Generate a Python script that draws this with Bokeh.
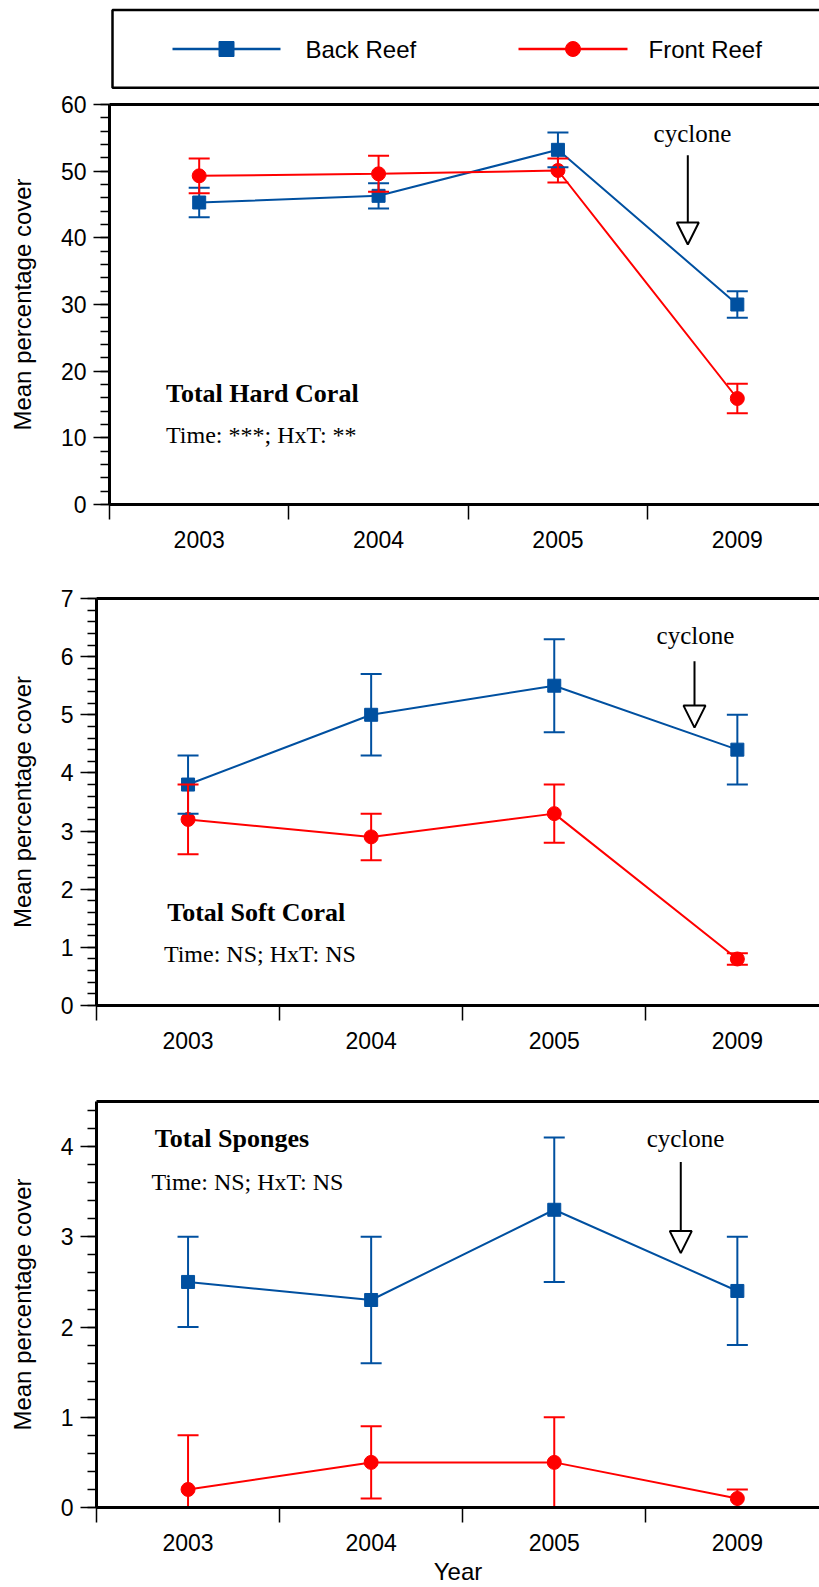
from bokeh.plotting import figure
from bokeh.models import (Range1d, LinearAxis, FixedTicker, ColumnDataSource, Whisker,
                          TeeHead, Arrow, NormalHead, Label, BoxAnnotation)
from bokeh.layouts import column
from bokeh.embed import file_html
from bokeh.resources import INLINE

# ---------------- data ----------------
years = ["2003", "2004", "2005", "2009"]
xpos = [0.5, 1.5, 2.5, 3.5]
series_names = ["Back Reef", "Front Reef"]

hard_back = [45.3, 46.3, 53.2, 30.0]
hard_back_se = [2.2, 1.9, 2.6, 2.0]
hard_front = [49.3, 49.6, 50.1, 15.9]
hard_front_se = [2.6, 2.7, 1.8, 2.2]

soft_back = [3.8, 5.0, 5.5, 4.4]
soft_back_se = [0.5, 0.7, 0.8, 0.6]
soft_front = [3.2, 2.9, 3.3, 0.8]
soft_front_se = [0.6, 0.4, 0.5, 0.1]

sponge_back = [2.5, 2.3, 3.3, 2.4]
sponge_back_se = [0.5, 0.7, 0.8, 0.6]
sponge_front = [0.2, 0.5, 0.5, 0.1]
sponge_front_se = [0.6, 0.4, 0.5, 0.1]

panel_titles = ["Total Hard Coral", "Total Soft Coral", "Total Sponges"]
panel_stats = ["Time: ***; HxT: **", "Time: NS; HxT: NS", "Time: NS; HxT: NS"]
y_label = "Mean percentage cover"
x_label = "Year"
note = "cyclone"

BLUE = "#0050a0"
RED = "#ff0000"
SANS = "Liberation Sans"
SERIF = "Liberation Serif"
W = 819


def frange(a, b, step):
    out = []
    v = a
    while v <= b + 1e-9:
        out.append(round(v, 6))
        v += step
    return out


def make_panel(back, back_se, front, front_se, *, height, top, bottom, left, xend,
               yend, ymajor, yminor_step, title, stats, title_xy, stats_xy,
               cyc_xy, arrow, show_xlabel=False):
    p = figure(width=W, height=height, x_range=Range1d(0, xend), y_range=Range1d(0, yend),
               output_backend="svg", toolbar_location=None,
               x_axis_type=None, y_axis_type=None,
               min_border_left=left, min_border_right=0,
               min_border_top=top, min_border_bottom=bottom)
    p.frame_align = False
    p.outline_line_color = None
    p.background_fill_color = "white"

    majors = frange(0, yend, ymajor)
    minors = frange(0, yend, yminor_step)
    yax = LinearAxis(ticker=FixedTicker(ticks=majors, minor_ticks=minors),
                     axis_line_width=3, axis_line_color="black",
                     major_tick_out=16, major_tick_in=0, minor_tick_out=9, minor_tick_in=0,
                     major_tick_line_width=1.5, minor_tick_line_width=1.5,
                     major_label_text_font=SANS, major_label_text_font_size="23px",
                     major_label_text_color="black", major_label_standoff=7,
                     axis_label=y_label, axis_label_text_font=SANS,
                     axis_label_text_font_size="24px", axis_label_text_font_style="normal",
                     axis_label_text_color="black", axis_label_standoff=22)
    p.add_layout(yax, "left")

    xax = LinearAxis(ticker=FixedTicker(ticks=xpos, minor_ticks=[0, 1, 2, 3, 4]),
                     major_label_overrides={xv: yr for xv, yr in zip(xpos, years)},
                     axis_line_width=3, axis_line_color="black",
                     major_tick_out=0, major_tick_in=0, minor_tick_out=15, minor_tick_in=0,
                     minor_tick_line_width=1.5,
                     major_label_text_font=SANS, major_label_text_font_size="23px",
                     major_label_text_color="black", major_label_standoff=11)
    if show_xlabel:
        xax.axis_label = x_label
        xax.axis_label_text_font = SANS
        xax.axis_label_text_font_size = "24px"
        xax.axis_label_text_font_style = "normal"
        xax.axis_label_text_color = "black"
        xax.axis_label_standoff = 4
    p.add_layout(xax, "below")

    top_ax = LinearAxis(ticker=FixedTicker(ticks=[]), axis_line_width=3,
                        axis_line_color="black", major_tick_out=0, minor_tick_out=0,
                        major_tick_in=0, minor_tick_in=0, major_label_text_font_size="0px")
    p.add_layout(top_ax, "above")

    for vals, se, color, marker, msize in [(back, back_se, BLUE, "square", 13),
                                           (front, front_se, RED, "circle", 14)]:
        src = ColumnDataSource(dict(x=xpos, y=vals,
                                    upper=[v + e for v, e in zip(vals, se)],
                                    lower=[v - e for v, e in zip(vals, se)]))
        p.add_layout(Whisker(source=src, base="x", upper="upper", lower="lower",
                             line_color=color, line_width=2, level="glyph",
                             upper_head=TeeHead(size=21, line_color=color, line_width=2),
                             lower_head=TeeHead(size=21, line_color=color, line_width=2)))
        p.line("x", "y", source=src, line_color=color, line_width=2)
        p.scatter("x", "y", source=src, marker=marker, size=msize,
                  fill_color=color, line_color=color)

    p.add_layout(Label(x=title_xy[0], y=title_xy[1], text=title, text_font=SERIF,
                       text_font_size="26px", text_font_style="bold",
                       text_baseline="middle", text_align="left", text_color="black"))
    p.add_layout(Label(x=stats_xy[0], y=stats_xy[1], text=stats, text_font=SERIF,
                       text_font_size="24px", text_baseline="middle",
                       text_align="left", text_color="black"))
    p.add_layout(Label(x=cyc_xy[0], y=cyc_xy[1], text=note, text_font=SERIF,
                       text_font_size="25px", text_baseline="middle",
                       text_align="center", text_color="black"))
    p.add_layout(Arrow(x_start=arrow[0], y_start=arrow[1], x_end=arrow[0], y_end=arrow[2],
                       line_color="black", line_width=2,
                       end=NormalHead(size=22, fill_color="white", line_color="black",
                                      line_width=2)))
    return p


# ---------------- legend strip ----------------
LH = 90
LY = LH - 48.5
leg = figure(width=W, height=LH, x_range=Range1d(0, W), y_range=Range1d(0, LH),
             output_backend="svg", toolbar_location=None, x_axis_type=None, y_axis_type=None,
             min_border_left=0, min_border_right=0, min_border_top=0, min_border_bottom=0)
leg.frame_align = False
leg.outline_line_color = None
leg.add_layout(BoxAnnotation(left=112, right=840, top=LH - 9.5, bottom=LH - 87.2,
                             fill_alpha=0, line_alpha=1, line_color="black",
                             line_width=2.5))
leg_items = [(series_names[0], BLUE, "square", 15, 172, 280, 305),
             (series_names[1], RED, "circle", 15, 518, 627, 648)]
for name, color, marker, msize, x0, x1, tx in leg_items:
    leg.line([x0, x1], [LY, LY], line_color=color, line_width=2.5)
    leg.scatter([(x0 + x1) / 2], [LY], marker=marker, size=msize, fill_color=color,
                line_color=color)
    leg.add_layout(Label(x=tx, y=LY, text=name, text_font=SANS, text_font_size="24px",
                         text_baseline="middle", text_color="black"))

p1 = make_panel(hard_back, hard_back_se, hard_front, hard_front_se,
                height=480, top=14, bottom=66, left=109, xend=(W - 109.3) / 179.3,
                yend=60, ymajor=10, yminor_step=2,
                title=panel_titles[0], stats=panel_stats[0],
                title_xy=(0.315, 16.6), stats_xy=(0.315, 10.4),
                cyc_xy=(3.25, 55.6), arrow=(3.224, 52.4, 39.0))
p2 = make_panel(soft_back, soft_back_se, soft_front, soft_front_se,
                height=500, top=28, bottom=65, left=96, xend=(W - 96) / 183.1,
                yend=7, ymajor=1, yminor_step=0.2,
                title=panel_titles[1], stats=panel_stats[1],
                title_xy=(0.386, 1.6), stats_xy=(0.368, 0.88),
                cyc_xy=(3.271, 6.36), arrow=(3.266, 5.92, 4.78))
p3 = make_panel(sponge_back, sponge_back_se, sponge_front, sponge_front_se,
                height=517, top=31, bottom=79, left=96, xend=(W - 96) / 183.1,
                yend=4.5, ymajor=1, yminor_step=0.2,
                title=panel_titles[2], stats=panel_stats[2],
                title_xy=(0.318, 4.09), stats_xy=(0.300, 3.61),
                cyc_xy=(3.217, 4.09), arrow=(3.191, 3.83, 2.82), show_xlabel=True)

layout = column(leg, p1, p2, p3, spacing=0)
open("out.html", "w").write(file_html(layout, INLINE))
